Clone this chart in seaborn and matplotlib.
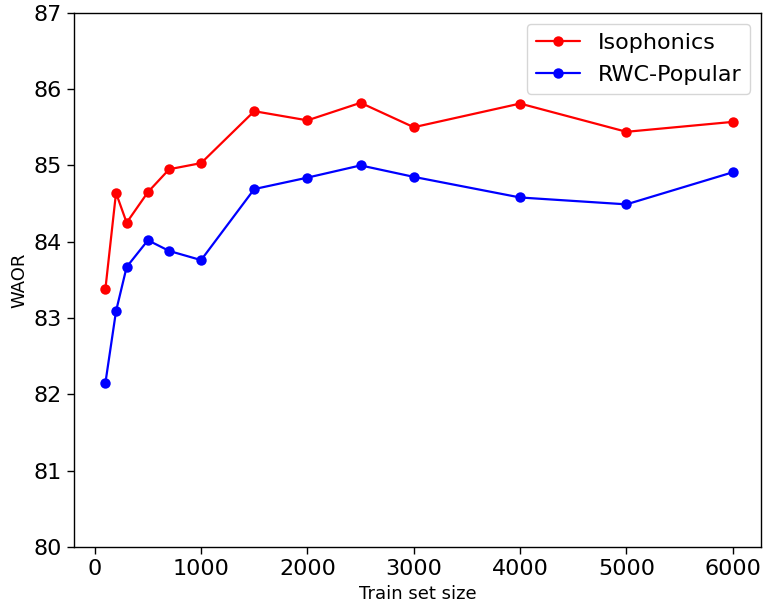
import pandas as pd
import matplotlib
matplotlib.use('Agg')
import matplotlib.pyplot as plt
import seaborn as sns

# values
train_size = [100, 200, 300, 500, 700, 1000, 1500, 2000, 2500, 3000, 4000, 5000, 6000]
isophonics = [83.38, 84.64, 84.25, 84.65, 84.95, 85.03, 85.71, 85.59, 85.82, 85.50, 85.81, 85.44, 85.57]
rwc_popular = [82.15, 83.09, 83.67, 84.02, 83.88, 83.76, 84.69, 84.84, 85.00, 84.85, 84.58, 84.49, 84.91]

df = pd.DataFrame({
    'Train set size': train_size * 2,
    'WAOR': isophonics + rwc_popular,
    'dataset': ['Isophonics'] * len(train_size) + ['RWC-Popular'] * len(train_size),
})

sns.set_style('ticks')
plt.rcParams['font.family'] = ['DejaVu Sans']
plt.rcParams['text.color'] = 'black'
plt.rcParams['axes.labelcolor'] = 'black'
plt.rcParams['xtick.color'] = 'black'
plt.rcParams['ytick.color'] = 'black'

fig, ax = plt.subplots(figsize=(7.63, 6.04), dpi=100)
fig.subplots_adjust(left=0.097, right=0.998, top=0.979, bottom=0.094)

sns.lineplot(data=df, x='Train set size', y='WAOR', hue='dataset',
             palette={'Isophonics': 'red', 'RWC-Popular': 'blue'},
             marker='o', markersize=7.5, markeredgewidth=0, linewidth=1.6, ax=ax)

ax.set_ylim(80, 87)
ax.set_xlim(-195, 6270)
ax.set_xticks([0, 1000, 2000, 3000, 4000, 5000, 6000])
ax.tick_params(labelsize=16, length=5, width=1, color='black', labelcolor='black')
ax.set_xlabel('Train set size', fontsize=13)
ax.set_ylabel('WAOR', fontsize=13)
for s in ax.spines.values():
    s.set_color('black')
    s.set_linewidth(1)

leg = ax.legend(loc='upper right', fontsize=16, title=None, fancybox=True,
                framealpha=0.8, edgecolor='#cccccc', labelspacing=0.55)
for t in leg.get_texts():
    t.set_color('black')

fig.savefig('out.png', dpi=100)
